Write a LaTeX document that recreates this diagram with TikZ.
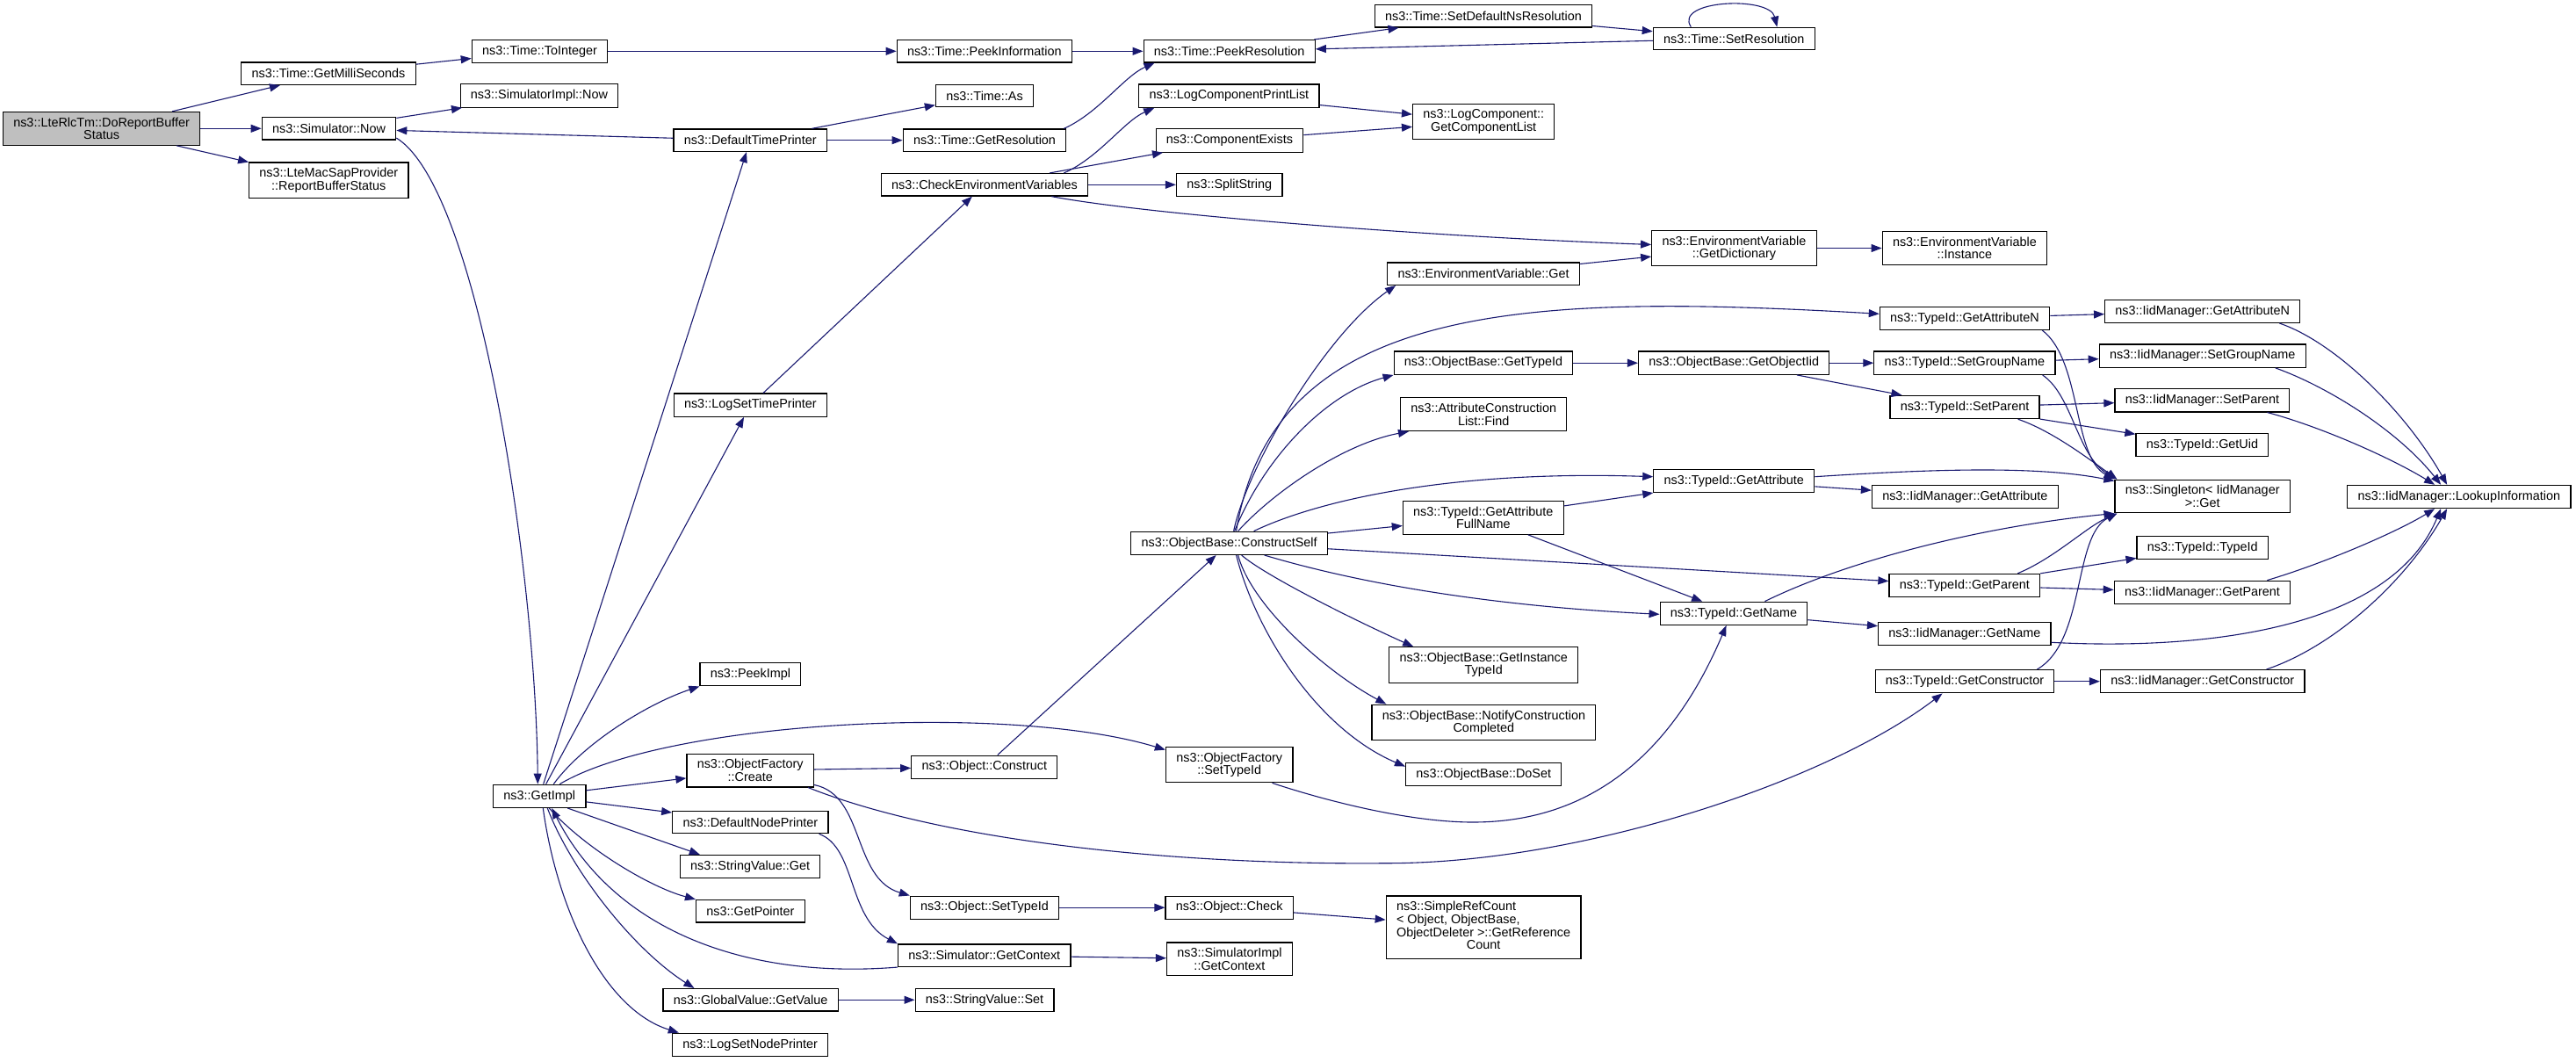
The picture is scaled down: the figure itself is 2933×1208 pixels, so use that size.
\documentclass[tikz,border=0pt]{standalone}
\usepackage{fontspec}
\setmainfont{Liberation Sans}
\usetikzlibrary{arrows.meta}
\definecolor{callblue}{HTML}{191970}
\definecolor{rootgray}{HTML}{BFBFBF}
\tikzset{
	fn/.style={draw=black, fill=white, line width=1.2pt, inner xsep=11.8pt, inner ysep=6.4pt, minimum height=25.5pt, align=center, font=\fontsize{14.4pt}{14.4pt}\selectfont},
	rootfn/.style={fn, fill=rootgray},
	call/.style={draw=callblue, line width=1.1pt, -{Triangle[length=12pt,width=9pt]}}
}

\begin{document}
\begin{tikzpicture}[x=1pt,y=1pt]
		%%%%% FRAME %%%%%
		\path[use as bounding box, fill=white] (0,0) rectangle (2933,-1208);
		
		%%%%% FUNCTIONS %%%%%
		\node[rootfn] (lte) at (115.6,-146.3) {ns3::LteRlcTm::DoReportBuffer\\Status};
		
		\node[fn] (getms) at (374,-83.7) {ns3::Time::GetMilliSeconds};
		\node[fn] (simnow) at (374.5,-146.3) {ns3::Simulator::Now};
		\node[fn] (ltemac) at (374.3,-205.3) {ns3::LteMacSapProvider\\::ReportBufferStatus};
		
		\node[fn] (toint) at (614.5,-58.3) {ns3::Time::ToInteger};
		\node[fn] (simimplnow) at (614,-109) {ns3::SimulatorImpl::Now};
		\node[fn] (getimpl) at (614.3,-906.3) {ns3::GetImpl};
		
		\node[fn] (deftp) at (854.2,-159.7) {ns3::DefaultTimePrinter};
		\node[fn] (logstp) at (854.4,-461.2) {ns3::LogSetTimePrinter};
		\node[fn] (peekimpl) at (854.4,-767.7) {ns3::PeekImpl};
		\node[fn] (ofcreate) at (854.2,-877) {ns3::ObjectFactory\\::Create};
		\node[fn] (defnp) at (854.4,-936) {ns3::DefaultNodePrinter};
		\node[fn] (svget) at (854.1,-986.5) {ns3::StringValue::Get};
		\node[fn] (getptr) at (854.4,-1037.2) {ns3::GetPointer};
		\node[fn] (gvget) at (854.6,-1138.3) {ns3::GlobalValue::GetValue};
		\node[fn] (lognp) at (854.1,-1189.3) {ns3::LogSetNodePrinter};
		
		\node[fn] (peekinfo) at (1120.8,-58.3) {ns3::Time::PeekInformation};
		\node[fn] (tas) at (1121,-109) {ns3::Time::As};
		\node[fn] (getres) at (1121,-159.7) {ns3::Time::GetResolution};
		\node[fn] (cev) at (1121,-210.3) {ns3::CheckEnvironmentVariables};
		\node[fn] (objcons) at (1120.8,-873.2) {ns3::Object::Construct};
		\node[fn] (objsettid) at (1121,-1033.2) {ns3::Object::SetTypeId};
		\node[fn] (simctx) at (1120.8,-1087.7) {ns3::Simulator::GetContext};
		\node[fn] (svset) at (1121,-1138.3) {ns3::StringValue::Set};
		
		\node[fn] (peekres) at (1399.7,-58.3) {ns3::Time::PeekResolution};
		\node[fn] (logpl) at (1399.4,-109.2) {ns3::LogComponentPrintList};
		\node[fn] (compex) at (1400,-160) {ns3::ComponentExists};
		\node[fn] (split) at (1399.7,-210.3) {ns3::SplitString};
		\node[fn] (cself) at (1399.6,-618.3) {ns3::ObjectBase::ConstructSelf};
		\node[fn] (ofsettid) at (1399.7,-870.5) {ns3::ObjectFactory\\::SetTypeId};
		\node[fn] (objcheck) at (1399.7,-1033.2) {ns3::Object::Check};
		\node[fn] (simimplctx) at (1399.9,-1091.8) {ns3::SimulatorImpl\\::GetContext};
		
		\node[fn] (setdef) at (1689,-18.3) {ns3::Time::SetDefaultNsResolution};
		\node[fn] (getcl) at (1689.2,-138.3) {ns3::LogComponent::\\GetComponentList};
		\node[fn] (evget) at (1689,-311.7) {ns3::EnvironmentVariable::Get};
		\node[fn] (obgettid) at (1689,-413.2) {ns3::ObjectBase::GetTypeId};
		\node[fn] (attrfind) at (1689.2,-471.7) {ns3::AttributeConstruction\\List::Find};
		\node[fn] (attrfull) at (1688.8,-589.3) {ns3::TypeId::GetAttribute\\FullName};
		\node[fn] (instid) at (1689.2,-757) {ns3::ObjectBase::GetInstance\\TypeId};
		\node[fn] (notify) at (1689.4,-822.5) {ns3::ObjectBase::NotifyConstruction\\Completed};
		\node[fn] (doset) at (1689.2,-881.3) {ns3::ObjectBase::DoSet};
		\node[fn] (srefcount) at (1689.1,-1055.7) {\begin{tabular}{@{}l@{}}ns3::SimpleRefCount\\< Object, ObjectBase,\\\multicolumn{1}{@{}c@{}}{ObjectDeleter >::GetReference}\\\multicolumn{1}{@{}c@{}}{Count}\end{tabular}};
		
		\node[fn] (setres) at (1974.3,-44) {ns3::Time::SetResolution};
		\node[fn] (getdict) at (1974.4,-282.5) {ns3::EnvironmentVariable\\::GetDictionary};
		\node[fn] (getoiid) at (1974.2,-413.2) {ns3::ObjectBase::GetObjectIid};
		\node[fn] (getattr) at (1974.3,-547.7) {ns3::TypeId::GetAttribute};
		\node[fn] (tgetname) at (1974,-698.3) {ns3::TypeId::GetName};
		
		\node[fn] (evinst) at (2236.9,-282.5) {ns3::EnvironmentVariable\\::Instance};
		\node[fn] (tgetattrn) at (2237,-362.3) {ns3::TypeId::GetAttributeN};
		\node[fn] (tsetgroup) at (2236.9,-413.2) {ns3::TypeId::SetGroupName};
		\node[fn] (tsetpar) at (2237,-463.5) {ns3::TypeId::SetParent};
		\node[fn] (imgetattr) at (2237.3,-565.3) {ns3::IidManager::GetAttribute};
		\node[fn] (tgetpar) at (2236.8,-666.5) {ns3::TypeId::GetParent};
		\node[fn] (imgetname) at (2236.8,-721.3) {ns3::IidManager::GetName};
		\node[fn] (tgetcons) at (2237,-775.7) {ns3::TypeId::GetConstructor};
		
		\node[fn] (imgetattrn) at (2507.7,-354.3) {ns3::IidManager::GetAttributeN};
		\node[fn] (imsetgroup) at (2507.7,-405.2) {ns3::IidManager::SetGroupName};
		\node[fn] (imsetpar) at (2507.4,-455.8) {ns3::IidManager::SetParent};
		\node[fn] (tgetuid) at (2507.4,-506.3) {ns3::TypeId::GetUid};
		\node[fn] (singleton) at (2507.7,-565) {ns3::Singleton< IidManager\\ >::Get};
		\node[fn] (ttypeid) at (2507.7,-623.5) {ns3::TypeId::TypeId};
		\node[fn] (imgetpar) at (2507.5,-674.3) {ns3::IidManager::GetParent};
		\node[fn] (imgetcons) at (2507.7,-775.7) {ns3::IidManager::GetConstructor};
		
		\node[fn] (lookup) at (2799.8,-565.5) {ns3::IidManager::LookupInformation};
		
		%%%%% CALLS %%%%%
		\draw[call] (lte) -- (getms);
		\draw[call] (lte) -- (simnow);
		\draw[call] (lte) -- (ltemac);
		\draw[call] (getms) -- (toint);
		\draw[call] (toint) -- (peekinfo);
		\draw[call] (peekinfo) -- (peekres);
		\draw[call] (peekres) -- (setdef);
		\draw[call] (setdef) -- (setres);
		\draw[call] (setres) -- (peekres);
		\draw[call] ([xshift=-49pt]setres.north) .. controls (1905,0) and (2015,5) .. ([xshift=49pt]setres.north);
		\draw[call] (simnow) -- (simimplnow);
		\draw[call] ([yshift=2.6pt]simnow.south east) .. controls (545,-215) and (610,-650) .. ([xshift=-2pt]getimpl.north);
		\draw[call] (deftp) -- (simnow);
		\draw[call] (deftp) -- (tas);
		\draw[call] (deftp) -- (getres);
		\draw[call] ([xshift=-3pt]getres.north east) .. controls (1251,-128.7) and (1280,-86.7) .. ([xshift=13pt]peekres.south west);
		\draw[call] ([xshift=-28pt]cev.north east) .. controls (1251,-179.7) and (1280,-137.7) .. ([xshift=18pt]logpl.south west);
		\draw[call] (cev) -- (compex);
		\draw[call] (cev) -- (split);
		\draw[call] ([xshift=-42pt]cev.south east) .. controls (1300,-243) and (1600,-268) .. ([yshift=4pt]getdict.west);
		\draw[call] (logpl) -- (getcl);
		\draw[call] (compex) -- (getcl);
		\draw[call] (getdict) -- (evinst);
		\draw[call] (evget) -- (getdict);
		\draw[call] (logstp) -- (cev);
		
		% out of GetImpl
		\draw[call] (getimpl) -- (deftp);
		\draw[call] (getimpl) -- (logstp);
		\draw[call] ([xshift=16pt]getimpl.north) .. controls (665,-845) and (740,-800) .. (peekimpl.south west);
		\draw[call] ([xshift=23pt]getimpl.north) .. controls (760,-820) and (1150,-800) .. ([yshift=-4pt]ofsettid.north west);
		\draw[call] (getimpl) -- (ofcreate);
		\draw[call] (getimpl) -- (defnp);
		\draw[call] ([xshift=32pt]getimpl.south) -- ([xshift=23pt]svget.north west);
		\draw[call] ([xshift=11pt]getimpl.south) .. controls (665,-965) and (740,-1010) .. (getptr.north west);
		\draw[call] (simctx.south west) .. controls (850,-1115) and (700,-1060) .. ([xshift=14pt]getimpl.south);
		\draw[call] ([xshift=9pt]getimpl.south) .. controls (650,-990) and (720,-1080) .. ([xshift=36pt]gvget.north west);
		\draw[call] ([xshift=4pt]getimpl.south) .. controls (635,-1040) and (690,-1150) .. ([xshift=8pt]lognp.north west);
		
		\draw[call] (ofcreate) -- (objcons);
		\draw[call] ([yshift=3pt]ofcreate.south east) .. controls (985,-905) and (970,-1000) .. (objsettid.north west);
		\draw[call] ([xshift=-7pt]ofcreate.south east) .. controls (1080,-960) and (1350,-985) .. (1580,-982.7) .. controls (1800,-982.7) and (2080,-890) .. ([xshift=77pt]tgetcons.south west);
		\draw[call] ([xshift=-11pt]defnp.south east) .. controls (975,-965) and (965,-1045) .. (simctx.north west);
		\draw[call] (objsettid) -- (objcheck);
		\draw[call] (objcheck) -- (srefcount);
		\draw[call] (simctx) -- (simimplctx);
		\draw[call] (gvget) -- (svset);
		\draw[call] (objcons) -- (cself);
		\draw[call] ([xshift=-24pt]ofsettid.south east) .. controls (1520,-915) and (1610,-936) .. (1677,-936) .. controls (1780,-936) and (1890,-890) .. ([xshift=76pt]tgetname.south west);
		
		% out of ConstructSelf
		\draw[call] ([xshift=5pt]cself.north) .. controls (1420,-530) and (1510,-380) .. ([xshift=10pt]evget.south west);
		\draw[call] ([xshift=8pt]cself.north) .. controls (1450,-340) and (1750,-335) .. ([yshift=5pt]tgetattrn.west);
		\draw[call] ([xshift=6pt]cself.north) .. controls (1440,-520) and (1510,-448) .. (obgettid.south west);
		\draw[call] ([xshift=10pt]cself.north) .. controls (1450,-560) and (1530,-505) .. ([xshift=10pt]attrfind.south west);
		\draw[call] ([xshift=28pt]cself.north) .. controls (1500,-570) and (1650,-535) .. ([yshift=5pt]getattr.west);
		\draw[call] (cself) -- (attrfull);
		\draw[call] (cself) -- (tgetpar);
		\draw[call] ([xshift=40pt]cself.south) .. controls (1550,-665) and (1700,-690) .. ([yshift=-1pt]tgetname.west);
		\draw[call] ([xshift=14pt]cself.south) .. controls (1440,-655) and (1540,-705) .. ([xshift=28pt]instid.north west);
		\draw[call] ([xshift=10pt]cself.south) .. controls (1425,-690) and (1510,-765) .. ([xshift=17pt]notify.north west);
		\draw[call] ([xshift=8pt]cself.south) .. controls (1430,-720) and (1500,-830) .. ([yshift=-5pt]doset.north west);
		
		% TypeId and IidManager
		\draw[call] (obgettid) -- (getoiid);
		\draw[call] (getoiid) -- (tsetgroup);
		\draw[call] (getoiid) -- (tsetpar);
		\draw[call] (tgetattrn) -- (imgetattrn);
		\draw[call] ([xshift=-9pt]tgetattrn.south east) .. controls (2370,-410) and (2360,-520) .. (singleton.north west);
		\draw[call] ([xshift=-24pt]imgetattrn.south east) .. controls (2660,-390) and (2740,-470) .. ([xshift=114pt]lookup.north west);
		\draw[call] (tsetgroup) -- (imsetgroup);
		\draw[call] ([xshift=-15pt]tsetgroup.south east) .. controls (2360,-450) and (2365,-520) .. ([xshift=3pt]singleton.north west);
		\draw[call] ([xshift=-35pt]imsetgroup.south east) .. controls (2650,-440) and (2730,-490) .. ([xshift=107pt]lookup.north west);
		\draw[call] (tsetpar) -- (imsetpar);
		\draw[call] (tsetpar) -- (tgetuid);
		\draw[call] ([xshift=-25pt]tsetpar.south east) .. controls (2335,-490) and (2375,-520) .. ([xshift=3pt]singleton.north west);
		\draw[call] ([xshift=-26pt]imsetpar.south east) .. controls (2640,-485) and (2720,-520) .. ([xshift=100pt]lookup.north west);
		\draw[call] ([yshift=5pt]getattr.east) .. controls (2200,-534) and (2320,-530) .. ([yshift=-2pt]singleton.north west);
		\draw[call] (getattr) -- (imgetattr);
		\draw[call] (attrfull) -- (getattr);
		\draw[call] (attrfull) -- (tgetname);
		\draw[call] ([xshift=-49pt]tgetname.north east) .. controls (2100,-640) and (2250,-600) .. (singleton.south west);
		\draw[call] (tgetname) -- (imgetname);
		\draw[call] ([xshift=-26pt]tgetpar.north east) .. controls (2340,-635) and (2375,-600) .. ([xshift=3pt]singleton.south west);
		\draw[call] (tgetpar) -- (ttypeid);
		\draw[call] (tgetpar) -- (imgetpar);
		\draw[call] ([xshift=-27pt]imgetpar.north east) .. controls (2650,-640) and (2730,-605) .. ([xshift=100pt]lookup.south west);
		\draw[call] ([yshift=-10pt]imgetname.east) .. controls (2500,-740) and (2720,-720) .. ([xshift=107pt]lookup.south west);
		\draw[call] ([xshift=-20pt]tgetcons.north east) .. controls (2375,-730) and (2360,-610) .. ([xshift=3pt]singleton.south west);
		\draw[call] (tgetcons) -- (imgetcons);
		\draw[call] ([xshift=-44pt]imgetcons.north east) .. controls (2660,-735) and (2740,-660) .. ([xshift=114pt]lookup.south west);
		
		%%%%% END %%%%%
\end{tikzpicture}
\end{document}
